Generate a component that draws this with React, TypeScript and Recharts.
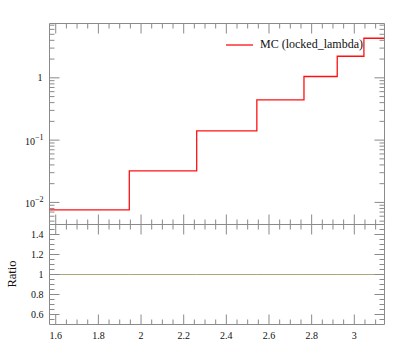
import { LineChart, Line, XAxis, YAxis, ReferenceArea, Legend } from "recharts";

// bin edges (x) and per-bin content of the MC histogram
const binEdges = [1.5708, 1.945, 2.261, 2.543, 2.764, 2.92, 3.045, 3.1416];
const mcValues = [0.0076, 0.0321, 0.141, 0.443, 1.05, 2.22, 4.32];
const ratioValues = [1, 1, 1, 1, 1, 1, 1];

const xMajorTicks = [1.6, 1.8, 2, 2.2, 2.4, 2.6, 2.8, 3];
const xMinorTicks = [1.65, 1.7, 1.75, 1.85, 1.9, 1.95, 2.05, 2.1, 2.15, 2.25, 2.3, 2.35, 2.45, 2.5, 2.55, 2.65, 2.7, 2.75, 2.85, 2.9, 2.95, 3.05, 3.1];

const logMajorTicks = [0.01, 0.1, 1];
const logMinorTicks = [0.005, 0.006, 0.007, 0.008, 0.009, 0.02, 0.03, 0.04, 0.05, 0.06, 0.07, 0.08, 0.09, 0.2, 0.3, 0.4, 0.5, 0.6, 0.7, 0.8, 0.9, 2, 3, 4, 5, 6, 7];
const logDomain = [0.00442, 7.45];

const ratioMajorTicks = [0.6, 0.8, 1, 1.2, 1.4];
const ratioMinorTicks = [0.55, 0.65, 0.7, 0.75, 0.85, 0.9, 0.95, 1.05, 1.1, 1.15, 1.25, 1.3, 1.35, 1.45];
const ratioDomain = [0.5, 1.5];

const rows = binEdges.map((x, i) => ({
  x,
  mc: mcValues[Math.min(i, mcValues.length - 1)],
  ratio: ratioValues[Math.min(i, ratioValues.length - 1)],
}));

const W = 397;
const H = 358;
const PLOT_L = 49.5;
const PLOT_R = 384.5;
const TOP1 = 23.5;
const MID = 224.5;
const BOT2 = 324.5;
const AXIS = "#8a8a8a";
const FONT = "'Liberation Serif', 'DejaVu Serif', serif";

const isIn = (list: number[], v: number) => list.some((m) => Math.abs(m - v) < 1e-9);

const makeXTick = (top: number, bottom: number, labels: boolean) => (props: any) => {
  const { x, payload } = props;
  const major = isIn(xMajorTicks, payload.value);
  const len = major ? 10 : 5;
  return (
    <g>
      <line x1={x} x2={x} y1={top} y2={top + len} stroke={AXIS} />
      <line x1={x} x2={x} y1={bottom - len} y2={bottom} stroke={AXIS} />
      {labels && major && (
        <text x={x} y={338.5} textAnchor="middle" fontFamily={FONT} fontSize={10} fill="#111">
          {String(payload.value)}
        </text>
      )}
    </g>
  );
};

const makeYTick = (majors: number[], label: (v: number, y: number) => any) => (props: any) => {
  const { y, payload } = props;
  const major = isIn(majors, payload.value);
  const len = major ? 10 : 5;
  return (
    <g>
      <line x1={PLOT_L} x2={PLOT_L + len} y1={y} y2={y} stroke={AXIS} />
      <line x1={PLOT_R - len} x2={PLOT_R} y1={y} y2={y} stroke={AXIS} />
      {major && label(payload.value, y)}
    </g>
  );
};

const logLabel = (v: number, y: number) => {
  const exp = Math.round(Math.log10(v));
  if (exp === 0) {
    return (
      <text x={PLOT_L - 7} y={y + 3.5} textAnchor="end" fontFamily={FONT} fontSize={10} fill="#111">
        1
      </text>
    );
  }
  return (
    <text x={PLOT_L - 6} y={y + 5} textAnchor="end" fontFamily={FONT} fontSize={10} fill="#111">
      10
      <tspan dy={-5} fontSize={8}>{"\u2212" + Math.abs(exp)}</tspan>
    </text>
  );
};

const ratioLabel = (v: number, y: number) => (
  <text x={PLOT_L - 6} y={y + 3.5} textAnchor="end" fontFamily={FONT} fontSize={10} fill="#111">
    {String(v)}
  </text>
);

const renderLegend = (props: any) => {
  const items = props.payload || [];
  return (
    <div style={{ fontFamily: FONT, fontSize: 12, color: "#111" }}>
      {items.map((it: any) => (
        <div key={it.value} style={{ display: "flex", alignItems: "center" }}>
          <svg width={34} height={10}>
            <line x1={0} x2={27} y1={5} y2={5} stroke={it.color} strokeWidth={1.3} />
          </svg>
          <span>{it.value}</span>
        </div>
      ))}
    </div>
  );
};

export default function App() {
  return (
    <div style={{ position: "absolute", left: 0, top: 0, width: W, height: H, background: "#fff" }}>
      <div style={{ position: "absolute", left: 0, top: 0 }}>
        <LineChart width={W} height={H} data={rows} margin={{ top: TOP1, right: W - PLOT_R, bottom: H - MID - 1, left: 0 }}>
          <XAxis
            dataKey="x"
            type="number"
            domain={[binEdges[0], binEdges[binEdges.length - 1]]}
            allowDataOverflow
            ticks={[...xMajorTicks, ...xMinorTicks]}
            interval={0}
            height={1}
            tickLine={false}
            axisLine={false}
            tick={makeXTick(TOP1, MID, false)}
          />
          <YAxis
            type="number"
            scale="log"
            domain={logDomain}
            allowDataOverflow
            ticks={[...logMajorTicks, ...logMinorTicks]}
            interval={0}
            width={PLOT_L}
            tickLine={false}
            axisLine={false}
            tick={makeYTick(logMajorTicks, logLabel)}
          />
          <ReferenceArea
            x1={binEdges[0]}
            x2={binEdges[binEdges.length - 1]}
            y1={logDomain[0]}
            y2={logDomain[1]}
            fill="none"
            stroke={AXIS}
            ifOverflow="visible"
          />
          <Line
            type="stepAfter"
            dataKey="mc"
            name="MC (locked_lambda)"
            stroke="#ff1010"
            strokeWidth={1.3}
            dot={false}
            isAnimationActive={false}
          />
          <Legend
            verticalAlign="middle"
            align="center"
            content={renderLegend}
            wrapperStyle={{ left: 226, top: 37, width: 160, height: 14 }}
          />
        </LineChart>
      </div>
      <div style={{ position: "absolute", left: 0, top: 0 }}>
        <LineChart width={W} height={H} data={rows} margin={{ top: MID, right: W - PLOT_R, bottom: H - BOT2 - 1, left: 0 }}>
          <XAxis
            dataKey="x"
            type="number"
            domain={[binEdges[0], binEdges[binEdges.length - 1]]}
            allowDataOverflow
            ticks={[...xMajorTicks, ...xMinorTicks]}
            interval={0}
            height={1}
            tickLine={false}
            axisLine={false}
            tick={makeXTick(MID, BOT2, true)}
          />
          <YAxis
            type="number"
            domain={ratioDomain}
            allowDataOverflow
            ticks={[...ratioMajorTicks, ...ratioMinorTicks]}
            interval={0}
            width={PLOT_L}
            tickLine={false}
            axisLine={false}
            tick={makeYTick(ratioMajorTicks, ratioLabel)}
          />
          <ReferenceArea
            x1={binEdges[0]}
            x2={binEdges[binEdges.length - 1]}
            y1={ratioDomain[0]}
            y2={ratioDomain[1]}
            fill="none"
            stroke={AXIS}
            ifOverflow="visible"
          />
          <Line
            type="stepAfter"
            dataKey="ratio"
            stroke="#a9a977"
            strokeWidth={1}
            dot={false}
            isAnimationActive={false}
          />
        </LineChart>
      </div>
      <div
        style={{
          position: "absolute",
          left: 11.5,
          top: 274,
          transform: "translate(-50%, -50%) rotate(-90deg)",
          fontFamily: FONT,
          fontSize: 12.5,
          color: "#111",
          whiteSpace: "nowrap",
        }}
      >
        Ratio
      </div>
    </div>
  );
}
